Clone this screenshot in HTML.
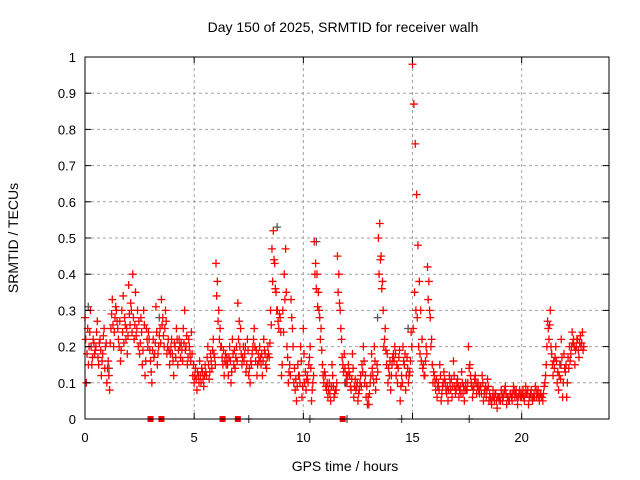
<!DOCTYPE html>
<html><head><meta charset="utf-8"><style>
body{margin:0;background:#fff;}
svg{display:block;font-family:"Liberation Sans",sans-serif;}
</style></head><body>
<svg id="c" width="640" height="480">
<text x="343" y="32" font-size="14" text-anchor="middle">Day 150 of 2025, SRMTID for receiver walh</text>
<text x="345" y="471" font-size="14" text-anchor="middle">GPS time / hours</text>
<text transform="translate(18,238) rotate(-90)" font-size="14" text-anchor="middle">SRMTID / TECUs</text>
<g id="grid"></g><g id="gray"></g><g id="red"></g><g id="axes"></g>
</svg>
<script>
const xTicks=[0,5,10,15,20];
const yTicks=[0,0.1,0.2,0.3,0.4,0.5,0.6,0.7,0.8,0.9,1];
const yTickLabels=["0","0.1","0.2","0.3","0.4","0.5","0.6","0.7","0.8","0.9","1"];
const binStarts=[0,0.5,1,1.5,2,2.5,3,3.5,4,4.5,5,5.5,6,6.5,7,7.5,8,8.5,9,9.5,10,10.5,11,11.5,12,12.5,13,13.5,14,14.5,15,15.5,16,16.5,17,17.5,18,18.5,19,19.5,20,20.5,21,21.5,22,22.5];
const redValues=[
[0.28,0.1,0.25,0.2,0.3,0.15,0.22,0.18],[0.2,0.27,0.15,0.22,0.12,0.18,0.25,0.2],
[0.1,0.16,0.08,0.25,0.33,0.2,0.28,0.3],[0.25,0.2,0.16,0.3,0.34,0.28,0.22,0.18],
[0.37,0.26,0.3,0.4,0.22,0.35,0.25,0.2],[0.18,0.28,0.15,0.3,0.12,0.25,0.2,0.22],
[0.16,0.1,0.22,0.18,0.31,0.15,0.2,0.25],[0.33,0.28,0.2,0.3,0.18,0.22,0.15,0.2],
[0.18,0.12,0.2,0.25,0.15,0.22,0.17,0.19],[0.25,0.3,0.2,0.15,0.22,0.18,0.24,0.12],
[0.1,0.14,0.08,0.12,0.16,0.1,0.13,0.09],[0.15,0.12,0.2,0.11,0.18,0.14,0.22,0.17],
[0.43,0.38,0.3,0.25,0.2,0.15,0.12,0.18],[0.17,0.12,0.2,0.1,0.22,0.15,0.14,0.2],
[0.32,0.27,0.25,0.15,0.2,0.18,0.13,0.22],[0.12,0.1,0.15,0.2,0.25,0.16,0.12,0.18],
[0.2,0.15,0.12,0.22,0.18,0.14,0.2,0.17],[0.3,0.47,0.52,0.43,0.35,0.3,0.25,0.28],
[0.12,0.3,0.4,0.47,0.2,0.1,0.15,0.33],[0.25,0.1,0.08,0.05,0.15,0.12,0.2,0.06],
[0.25,0.1,0.08,0.12,0.15,0.2,0.05,0.1],[0.49,0.43,0.4,0.35,0.28,0.25,0.15,0.1],
[0.12,0.08,0.06,0.1,0.05,0.15,0.09,0.07],[0.08,0.45,0.4,0.3,0.22,0.15,0.18,0.1],
[0.1,0.15,0.12,0.08,0.18,0.06,0.11,0.09],[0.05,0.08,0.12,0.15,0.2,0.1,0.06,0.04],
[0.04,0.1,0.18,0.12,0.2,0.08,0.15,0.5],[0.54,0.45,0.38,0.2,0.25,0.15,0.1,0.12],
[0.08,0.15,0.18,0.2,0.12,0.1,0.17,0.05],[0.12,0.2,0.15,0.08,0.17,0.1,0.13,0.24],
[0.98,0.87,0.76,0.62,0.48,0.38,0.3,0.22],[0.15,0.12,0.2,0.42,0.38,0.28,0.22,0.1],
[0.12,0.08,0.06,0.1,0.15,0.05,0.09,0.13],[0.1,0.07,0.05,0.12,0.08,0.06,0.16,0.09],
[0.08,0.11,0.06,0.09,0.13,0.07,0.05,0.1],[0.08,0.2,0.15,0.1,0.06,0.09,0.12,0.07],
[0.1,0.07,0.09,0.12,0.05,0.08,0.06,0.11],[0.05,0.06,0.04,0.08,0.05,0.07,0.03,0.06],
[0.06,0.08,0.05,0.07,0.09,0.04,0.06,0.05],[0.07,0.05,0.09,0.06,0.08,0.04,0.07,0.06],
[0.06,0.08,0.05,0.09,0.07,0.04,0.06,0.08],[0.05,0.07,0.09,0.06,0.08,0.05,0.07,0.06],
[0.07,0.1,0.15,0.27,0.22,0.3,0.18,0.12],[0.14,0.2,0.1,0.08,0.15,0.22,0.06,0.18],
[0.13,0.06,0.17,0.2,0.18,0.24,0.22,0.15],[0.2,0.22,0.17,0.23,0.21,0.19]];
const redValues2=[
[0.22,0.18,0.15,0.24,0.2,0.17,0.21,0.19],[0.24,0.17,0.21,0.19,0.16,0.23,0.14,0.21],
[0.14,0.12,0.21,0.29,0.26,0.24,0.31,0.27],[0.22,0.27,0.19,0.24,0.21,0.26,0.25,0.23],
[0.29,0.32,0.24,0.28,0.26,0.23,0.3,0.27],[0.21,0.24,0.19,0.26,0.16,0.22,0.24,0.19],
[0.13,0.19,0.17,0.21,0.24,0.18,0.23,0.21],[0.26,0.23,0.25,0.27,0.2,0.19,0.18,0.22],
[0.16,0.21,0.17,0.22,0.19,0.2,0.21,0.16],[0.21,0.19,0.23,0.17,0.2,0.16,0.18,0.15],
[0.12,0.11,0.13,0.1,0.12,0.14,0.11,0.12],[0.13,0.17,0.15,0.13,0.16,0.19,0.18,0.15],
[0.34,0.27,0.22,0.2,0.17,0.19,0.16,0.15],[0.15,0.17,0.16,0.13,0.18,0.19,0.17,0.16],
[0.22,0.2,0.18,0.17,0.16,0.2,0.15,0.19],[0.14,0.16,0.18,0.22,0.2,0.19,0.15,0.16],
[0.17,0.18,0.16,0.19,0.15,0.17,0.18,0.21],[0.26,0.38,0.44,0.36,0.3,0.27,0.29,0.24],
[0.15,0.24,0.33,0.35,0.17,0.13,0.12,0.28],[0.2,0.14,0.11,0.09,0.12,0.1,0.16,0.09],
[0.18,0.13,0.11,0.1,0.17,0.14,0.08,0.12],[0.4,0.36,0.31,0.3,0.22,0.19,0.12,0.13],
[0.09,0.1,0.08,0.07,0.09,0.12,0.06,0.08],[0.1,0.35,0.32,0.25,0.17,0.13,0.14,0.12],
[0.12,0.13,0.09,0.11,0.14,0.09,0.08,0.1],[0.07,0.1,0.09,0.13,0.16,0.12,0.09,0.06],
[0.07,0.12,0.14,0.1,0.16,0.11,0.13,0.4],[0.44,0.36,0.3,0.22,0.19,0.18,0.14,0.16],
[0.12,0.17,0.16,0.18,0.15,0.14,0.19,0.09],[0.1,0.16,0.18,0.12,0.14,0.12,0.16,0.2],
[0.25,0.35,0.3,0.28,0.2,0.18,0.16,0.14],[0.12,0.16,0.18,0.33,0.3,0.2,0.15,0.13],
[0.1,0.11,0.09,0.08,0.12,0.07,0.1,0.11],[0.08,0.09,0.08,0.1,0.11,0.09,0.12,0.07],
[0.1,0.09,0.08,0.07,0.1,0.09,0.08,0.08],[0.1,0.14,0.12,0.09,0.08,0.11,0.1,0.09],
[0.08,0.09,0.07,0.1,0.07,0.09,0.08,0.09],[0.07,0.05,0.06,0.06,0.07,0.05,0.06,0.05],
[0.05,0.07,0.06,0.08,0.07,0.06,0.05,0.07],[0.06,0.07,0.08,0.07,0.06,0.06,0.08,0.07],
[0.07,0.06,0.07,0.07,0.08,0.06,0.07,0.06],[0.06,0.06,0.08,0.07,0.06,0.07,0.06,0.05],
[0.09,0.12,0.2,0.25,0.26,0.2,0.15,0.16],[0.17,0.16,0.13,0.12,0.11,0.17,0.1,0.14],
[0.15,0.1,0.14,0.16,0.2,0.21,0.2,0.19],[0.22,0.19,0.21,0.2,0.24,0.2]];
const grayTimes=[0.15,1.1,3.4,8.8,10.6,13.4,11.9,18,21.8,14.8,7.5,10.3,12,14.5,17.6];
const grayValues=[0.31,0.14,0.28,0.53,0.49,0.28,0.1,0.1,0.15,0.25,0,0,0,0,0];
const zeroTimes=[3,3.5,6.3,7,11.8];
const zeroValues=[0,0,0,0,0];

const X0=85,X1=609,Y0=419,Y1=57,XMAX=24;
const sx=t=>X0+(X1-X0)*t/XMAX;
const sy=v=>Y0-(Y0-Y1)*v;
const NS="http://www.w3.org/2000/svg";
function mk(tag,attrs,parent){const e=document.createElementNS(NS,tag);for(const k in attrs)e.setAttribute(k,attrs[k]);parent.appendChild(e);return e;}
const grid=document.getElementById('grid'),axes=document.getElementById('axes');
yTicks.forEach((v,i)=>{
  if(v>0&&v<1){const l=mk('line',{x1:X0,x2:X1,y1:sy(v),y2:sy(v),stroke:'#a0a0a0','stroke-dasharray':'3,3'},grid);
  
  }
  mk('line',{x1:X0,x2:X0+6,y1:sy(v),y2:sy(v),stroke:'#000'},axes);
  mk('line',{x1:X1,x2:X1-6,y1:sy(v),y2:sy(v),stroke:'#000'},axes);
  const t=mk('text',{x:X0-9,y:sy(v)+5,'font-size':13,'text-anchor':'end'},axes);t.textContent=yTickLabels[i];
  
  
});
xTicks.forEach(v=>{
  if(v>0){const l=mk('line',{x1:sx(v),x2:sx(v),y1:Y0,y2:Y1,stroke:'#a0a0a0','stroke-dasharray':'3,3'},grid);
  
  }
  mk('line',{x1:sx(v),x2:sx(v),y1:Y0,y2:Y0-6,stroke:'#000'},axes);
  mk('line',{x1:sx(v),x2:sx(v),y1:Y1,y2:Y1+6,stroke:'#000'},axes);
  const t=mk('text',{x:sx(v),y:Y0+23,'font-size':13,'text-anchor':'middle'},axes);t.textContent=String(v);
  
  
});
const fr=mk('rect',{x:X0,y:Y1,width:X1-X0,height:Y0-Y1,fill:'none',stroke:'#000'},axes);


function plus(g,t,v,col){
  const x=sx(t),y=sy(v);
  return mk('path',{d:`M${x-4} ${y}H${x+4}M${x} ${y-4}V${y+4}`,stroke:col,'stroke-width':1.3,fill:'none'},g);
}
const gg=document.getElementById('gray'),rg=document.getElementById('red');
grayTimes.forEach((t,i)=>{const p=plus(gg,t,grayValues[i],'#555');
  
  });
binStarts.forEach((b,j)=>{
  redValues[j].forEach((v,i)=>{
    const p=plus(rg,b+i/16,v,'#ff0000');
    
    });
  redValues2[j].forEach((v,i)=>{
    const p=plus(rg,b+i/16+1/32,v,'#ff0000');
    
    });
});
zeroTimes.forEach((t,i)=>{const r=mk('rect',{x:sx(t)-3,y:sy(zeroValues[i])-3,width:6,height:6,fill:'#ff0000'},rg);
  
  });
</script>
</body></html>
